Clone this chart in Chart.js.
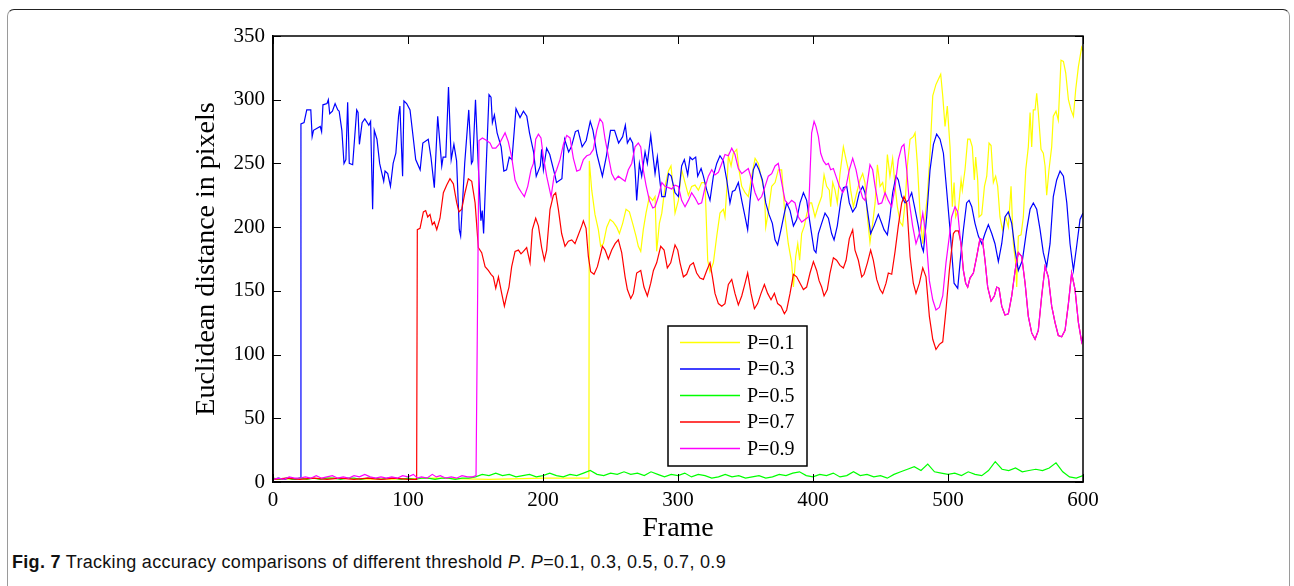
<!DOCTYPE html>
<html>
<head>
<meta charset="utf-8">
<script src="https://cdn.jsdelivr.net/npm/chart.js@4.4.1/dist/chart.umd.min.js"></script>
<style>
  html, body { margin: 0; padding: 0; background: #fff; }
  body { width: 1294px; height: 586px; position: relative; overflow: hidden; }
  #frame {
    position: absolute; left: 7px; top: 9px; width: 1283px; height: 620px;
    border: 1.5px solid #9a9a9a; border-top-color: #222; border-radius: 7px;
    box-sizing: border-box;
  }
  #myChart { position: absolute; left: 0; top: 0; }
  #caption {
    position: absolute; left: 12px; top: 552px;
    font-family: "Liberation Sans", "Noto Sans", sans-serif; font-size: 18px; letter-spacing: 0.3px;
    color: #111; white-space: nowrap;
  }
</style>
</head>
<body>
<div id="frame"></div>
<canvas id="myChart" width="1294" height="545"></canvas>
<div id="caption"><b>Fig. 7</b> Tracking accuracy comparisons of different threshold <i>P</i>. <i>P</i>=0.1, 0.3, 0.5, 0.7, 0.9</div>
<script>
// values (frame number, euclidean distance)
const framesP01 = [0, 40, 80, 120, 160, 200, 234, 234.3, 236.1, 238.5, 241, 242.7, 244.7, 247.2, 249.7, 252.1, 254.6, 256.6, 259, 261.5, 264, 266.4, 268.9, 270.6, 272.4, 274.3, 276.3, 278.8, 281.3, 283, 284.2, 286.2, 288, 290.4, 292.9, 294.8, 296.6, 297.8, 300.3, 302.7, 305.2, 307.7, 310.1, 312.6, 315.1, 317.5, 320, 322, 323.7, 326.2, 328.7, 331.1, 333.6, 334.8, 336.1, 337.3, 339.3, 341, 343.5, 345.2, 347.2, 349.7, 352.1, 354.6, 357.1, 359.5, 362, 364, 365, 366.9, 369.4, 371.9, 374.3, 376.8, 379.3, 381.7, 384.2, 385.5, 387.2, 388.7, 390.1, 391.6, 393.6, 395.3, 397.8, 399, 401.5, 404, 406.4, 408.2, 410.1, 412.1, 413.1, 414.6, 416.3, 418, 420, 422.5, 424.5, 426.2, 427.9, 429.9, 432.4, 434.8, 436.8, 438.5, 440.3, 442.2, 444.2, 446, 447.7, 449.7, 451.6, 453.4, 455.1, 457, 459, 460.8, 462.5, 464.5, 466.4, 468.2, 469.9, 471.9, 474.3, 475.6, 477.3, 479.3, 481.3, 483, 484.7, 486.7, 488.7, 491.1, 492.9, 494.6, 496.1, 497.8, 499.5, 501.5, 503.2, 504.5, 505.7, 507.7, 509.7, 510.6, 512.6, 514.6, 516.3, 518, 519.5, 520.5, 522, 523, 525, 527, 528.7, 530.4, 531.9, 533.6, 535.3, 536.8, 538.5, 540.3, 542.7, 544.7, 546.7, 548.4, 550.1, 550.9, 552.1, 554.1, 555.8, 557.6, 559.5, 560.8, 562, 563.2, 564.5, 565.7, 566.9, 568.9, 570.6, 571.9, 573.1, 574.8, 576.8, 578, 580, 581.7, 583.7, 585.5, 587.2, 589.2, 591.1, 592.9, 594.6, 596.6, 599, 600];
const distP01 = [2, 3, 2, 3, 2, 3, 3, 252, 229, 210, 198, 185, 187, 200, 206, 204, 200, 195, 203, 214, 212, 203, 193, 185, 181, 198, 211, 224, 221, 224, 181, 203, 211, 232, 244, 248, 229, 211, 221, 245, 235, 225, 232, 233, 229, 235, 235, 174, 165, 172, 193, 211, 214, 208, 229, 256, 248, 258, 261, 245, 232, 227, 224, 240, 254, 250, 237, 229, 200, 212, 232, 235, 245, 245, 208, 187, 172, 153, 177, 187, 174, 195, 201, 210, 219, 219, 208, 217, 224, 241, 232, 229, 216, 235, 229, 219, 242, 263, 253, 245, 229, 216, 227, 237, 242, 235, 208, 188, 203, 219, 249, 232, 235, 224, 257, 240, 254, 232, 216, 204, 201, 219, 248, 269, 271, 274, 250, 211, 187, 208, 224, 258, 303, 312, 316, 320, 303, 279, 295, 263, 216, 235, 208, 214, 237, 229, 245, 269, 269, 263, 237, 255, 237, 208, 210, 232, 240, 266, 264, 235, 240, 232, 208, 198, 208, 200, 232, 187, 172, 153, 193, 194, 208, 245, 263, 290, 263, 292, 292, 305, 290, 261, 258, 248, 225, 245, 263, 287, 291, 284, 331, 330, 321, 300, 292, 287, 308, 326, 341, 338];

const framesP03 = [0, 4, 8, 12, 16, 20, 20.7, 23, 25, 28, 29, 30, 35, 36, 37, 40, 41, 42, 44, 46, 48, 49, 51, 52.6, 54, 55.3, 56.5, 59, 62, 63, 64, 66, 68, 71, 72.3, 73.8, 75, 77, 79, 82, 83, 85, 87, 89, 91, 93, 94, 96, 97, 99, 101.5, 104, 105.7, 109, 111, 115, 117, 119.5, 122, 125, 126, 128, 130, 132, 134, 136, 138, 139, 142, 145, 147, 148, 150, 152, 154, 155, 156, 158, 160, 161.5, 162.5, 164, 166, 169, 171, 173, 175, 177, 180, 183, 185.5, 188, 190, 193, 195, 198, 199, 200.3, 202.7, 205, 209, 210, 214, 216, 219, 221, 224, 226, 229, 232, 235, 237, 240, 244, 247, 250, 253, 256, 259, 261, 262.5, 264.5, 266.4, 268.2, 269.4, 271.4, 273.1, 275.6, 277.3, 279.8, 281.8, 283, 284.7, 286.7, 288, 290.4, 293, 295, 297.8, 300.3, 302.7, 304.7, 307.2, 308.9, 310.6, 313.1, 314.6, 317.1, 318.8, 321.3, 323.7, 326.2, 328.7, 331.1, 333.6, 336.1, 338.5, 340.3, 342.2, 344.7, 347.2, 349.7, 351.6, 353.4, 355.8, 357.8, 360, 362.5, 365, 367.4, 369.9, 371.9, 373.8, 376.3, 378.8, 380.5, 383, 385.5, 387.9, 390.4, 392.9, 395.3, 397.8, 400.8, 402.2, 404, 406.4, 408.9, 411.4, 413.8, 415.6, 418, 420.5, 422.5, 425, 426.9, 429.4, 431.9, 434.3, 436.8, 438.5, 441, 442.7, 445.2, 448.4, 450.9, 452.6, 455.1, 457, 459, 461.5, 463.2, 465.7, 468.2, 470.6, 473.1, 475.6, 478, 480.5, 481.8, 484.2, 486.7, 489.2, 491.6, 494.1, 496.6, 499, 501.5, 504.5, 507.2, 508.9, 511.4, 513.8, 515.6, 517.6, 520, 522.5, 525, 527.4, 529.9, 532.4, 534.8, 537.3, 539.8, 542.2, 544.7, 547.2, 549.7, 552.1, 555.1, 558.3, 560.8, 563.2, 565.7, 568.2, 570.6, 573.1, 575.6, 578, 580.5, 583, 585.5, 588, 590.4, 592.9, 595.3, 597.8, 600];
const distP03 = [2, 3, 2, 3, 2, 3, 281, 282, 292, 292, 271, 276, 279, 275, 296, 297, 300, 289, 291, 297, 292, 291, 276, 250, 253, 298, 250, 249, 292, 290, 265, 282, 285, 280, 283, 214, 276, 269, 250, 236, 244, 242, 232, 250, 258, 287, 295, 240, 299, 297, 292, 269, 253, 245, 266, 269, 255, 231, 287, 248, 255, 255, 310, 253, 265, 252, 198, 193, 250, 292, 250, 252, 300, 250, 205, 213, 195, 250, 304, 302, 282, 288, 274, 263, 244, 245, 255, 253, 293, 286, 291, 287, 274, 259, 240, 248, 261, 245, 262, 257, 240, 235, 238, 269, 259, 263, 275, 276, 263, 268, 283, 276, 257, 240, 256, 276, 276, 266, 271, 280, 266, 270, 266, 245, 221, 250, 240, 259, 250, 272, 253, 242, 255, 235, 224, 224, 242, 240, 227, 224, 248, 253, 241, 255, 253, 255, 240, 246, 240, 229, 221, 240, 250, 256, 252, 237, 219, 228, 229, 235, 221, 208, 198, 221, 245, 250, 245, 237, 219, 210, 203, 190, 186, 198, 211, 219, 213, 201, 206, 219, 227, 221, 203, 182, 180, 195, 203, 211, 207, 195, 190, 201, 220, 231, 232, 219, 212, 216, 227, 232, 227, 208, 195, 201, 210, 203, 198, 194, 208, 227, 240, 237, 224, 219, 221, 227, 214, 201, 185, 181, 208, 245, 265, 273, 269, 258, 229, 198, 156, 152, 172, 198, 219, 221, 216, 203, 193, 187, 195, 202, 195, 187, 173, 187, 208, 212, 203, 182, 166, 174, 198, 214, 219, 214, 198, 180, 169, 187, 224, 237, 244, 240, 219, 187, 166, 185, 206, 211];

const framesP05 = [0, 5, 10, 15, 20, 25, 30, 35, 40, 45, 50, 55, 60, 65, 70, 75, 80, 85, 90, 95, 100, 105, 110, 115, 120, 125, 130, 135, 140, 145, 150, 155, 160, 165, 170, 175, 180, 185, 190, 195, 200, 205, 210, 215, 220, 225, 230, 235, 240, 245, 250, 255, 260, 265, 270, 275, 280, 285, 290, 295, 300, 305, 310, 315, 320, 325, 330, 335, 340, 345, 350, 355, 360, 365, 370, 375, 380, 385, 390, 395, 400, 405, 410, 415, 420, 425, 430, 435, 440, 445, 450, 455, 460, 465, 470, 475, 480, 485, 490, 495, 500, 505, 510, 515, 520, 525, 530, 535, 540, 545, 550, 555, 560, 565, 570, 575, 580, 585, 590, 595, 600];
const distP05 = [3, 2, 3, 2, 3, 2, 3, 2, 3, 3, 2, 3, 3, 2, 3, 3, 2, 3, 3, 2, 3, 2, 3, 3, 2, 3, 3, 2, 3, 3, 4, 6, 5, 7, 5, 6, 4, 5, 6, 4, 5, 7, 5, 4, 6, 5, 7, 9, 6, 5, 7, 6, 8, 6, 7, 5, 8, 6, 4, 6, 5, 7, 4, 6, 5, 3, 4, 6, 4, 5, 3, 4, 5, 3, 4, 6, 5, 7, 8, 5, 4, 6, 5, 7, 4, 5, 8, 5, 6, 4, 5, 3, 6, 8, 10, 12, 9, 14, 8, 7, 6, 7, 5, 8, 6, 5, 9, 16, 10, 9, 11, 8, 9, 10, 9, 11, 15, 8, 4, 3, 5];

const framesP07 = [0, 10, 20, 30, 40, 50, 60, 70, 80, 90, 100, 106.4, 106.9, 108.9, 111.4, 113.1, 114.6, 116.3, 118, 119.5, 121.3, 123.7, 126.2, 128.7, 131.1, 133.6, 136.1, 137.8, 139.8, 142.2, 144.7, 147.2, 149.7, 152.1, 154.6, 157.1, 159.5, 161.5, 163.2, 165, 167, 169.4, 171.4, 173.1, 174.8, 176.8, 179.3, 181.8, 183.7, 185.5, 187.9, 190.4, 192.1, 194.6, 196.6, 199, 201, 202.7, 205.2, 207.7, 209.4, 211.4, 213.8, 216.3, 218.8, 221.3, 223.7, 226.2, 228.7, 229.9, 231.9, 233.6, 235.3, 237.8, 240.3, 242.2, 244, 246, 248.4, 250.9, 253.4, 255.8, 258.3, 260.8, 262.5, 265, 266.9, 269.4, 272.4, 274.8, 277.3, 279.8, 281.8, 284.2, 287.2, 289.7, 292.1, 294.6, 297.8, 299.8, 301.5, 304, 306.4, 308.9, 311.4, 313.8, 316.3, 318.8, 321.3, 323.7, 325.5, 327.4, 329.9, 332.4, 334.8, 337.3, 339.8, 342.2, 344.7, 347.2, 349.7, 351.6, 354.1, 356.6, 359, 361.5, 364, 366.4, 368.9, 371.4, 373.8, 376.3, 378.8, 380.5, 383, 385.5, 387.9, 390.4, 392.9, 395.3, 397.8, 400.3, 402.7, 404.5, 406.4, 408.2, 410.6, 412.6, 415.1, 417.5, 420, 422.5, 424.5, 426.9, 429.4, 431.1, 433.6, 436.1, 437.8, 440.3, 442.7, 444.7, 447.2, 449.7, 451.6, 454.1, 455.8, 458.3, 460.8, 463.2, 465.7, 467.4, 469.4, 471.9, 474.3, 476.3, 478.8, 481.3, 483.7, 486.2, 488.7, 491.1, 493.6, 496.1, 498.5, 501, 504, 505.5, 507.7, 509.7, 511.4, 513.1, 514.6, 516.3, 518.8, 521.3, 523.7, 525.5, 527.4, 529.4, 531.9, 534.3, 536.1, 537.8, 539.8, 542.2, 544.7, 547.2, 549.7, 552.1, 554.6, 557.1, 559.5, 562, 564.5, 566.9, 569.4, 571.9, 574.3, 576.8, 579.3, 581.7, 584.2, 586.7, 589.2, 591.6, 594.1, 596.6, 599, 600];
const distP07 = [2, 3, 2, 3, 2, 3, 2, 3, 2, 3, 2, 2, 198, 199, 212, 213, 208, 210, 202, 204, 198, 207, 227, 233, 238, 234, 219, 212, 214, 227, 238, 236, 219, 184, 180, 169, 166, 163, 161, 152, 161, 148, 138, 146, 153, 169, 181, 182, 179, 181, 184, 172, 198, 207, 201, 184, 174, 182, 214, 225, 227, 214, 195, 185, 189, 190, 187, 194, 201, 205, 199, 177, 165, 163, 169, 177, 185, 182, 175, 182, 187, 190, 180, 161, 151, 144, 148, 164, 166, 153, 146, 156, 166, 172, 185, 182, 168, 172, 186, 182, 172, 161, 163, 170, 172, 164, 160, 159, 166, 172, 161, 148, 140, 138, 140, 155, 159, 148, 139, 146, 156, 164, 148, 136, 140, 148, 155, 148, 143, 148, 140, 138, 132, 135, 148, 163, 161, 156, 151, 153, 164, 173, 166, 158, 153, 146, 151, 164, 176, 174, 170, 168, 174, 191, 198, 182, 174, 161, 163, 172, 182, 174, 159, 151, 148, 156, 164, 163, 181, 201, 219, 224, 219, 177, 156, 148, 156, 168, 161, 130, 112, 104, 108, 110, 135, 166, 195, 197, 197, 187, 166, 156, 153, 160, 164, 177, 191, 190, 174, 153, 142, 146, 153, 152, 138, 131, 132, 146, 166, 180, 177, 156, 130, 117, 112, 119, 146, 169, 161, 138, 125, 115, 114, 119, 140, 164, 151, 125, 110, 114];

const framesP09 = [0, 4, 8, 12, 16, 20, 24, 28, 32, 36, 40, 44, 48, 52, 56, 60, 64, 68, 72, 76, 80, 84, 88, 92, 96, 100, 104, 107, 110, 114, 118, 121, 124, 128, 132, 136, 140, 144, 148, 150.4, 152.6, 155.1, 158.3, 160.8, 162.5, 165, 167.4, 169.9, 171.9, 174.3, 176.8, 179.3, 181.8, 184.2, 186.2, 188.7, 191.1, 192.9, 194.6, 196.6, 198.5, 200.3, 202.7, 206, 208.2, 210.1, 212.6, 215.1, 217.6, 220, 222.5, 225, 227.4, 229.9, 232.4, 234.8, 237.3, 239.8, 242.2, 244.2, 246, 248.4, 250.9, 253.4, 255.8, 258.3, 260.8, 263.2, 265.7, 268.2, 270.6, 272.4, 274.3, 276.3, 278.8, 281.3, 283, 285.5, 288, 290.4, 292.9, 295.3, 297.8, 300.3, 302.7, 305.2, 307.7, 310.1, 312.6, 315.1, 317.5, 320, 322.5, 325, 327.4, 329.9, 332.4, 334.8, 337.3, 339.8, 342.2, 344.7, 347.2, 349.7, 352.1, 354.6, 357.1, 359.5, 362, 364.5, 366.9, 369.4, 371.9, 374.3, 376.8, 379.3, 381.7, 384.2, 386.7, 389.2, 391.6, 394.1, 396.6, 397.8, 399, 400.8, 402.2, 404, 405.7, 407.7, 409.7, 411.4, 413.1, 415.1, 417, 419.5, 422, 424.5, 426.9, 429.4, 431.9, 434.3, 436.8, 438.5, 440.3, 442.2, 444.2, 446, 448.4, 450.9, 453.4, 455.8, 458.3, 460.8, 463.2, 465.7, 467.4, 469.4, 471.4, 473.8, 476.3, 478.8, 481.3, 483.7, 486.2, 488.7, 491.1, 493.6, 496.1, 498.5, 501, 502.7, 505.2, 507.2, 508.9, 511.4, 513.1, 514.6, 516.3, 518.8, 521.3, 523.7, 525.5, 527.4, 529.4, 531.9, 534.3, 536.1, 537.8, 539.8, 542.2, 544.7, 547.2, 549.7, 552.1, 554.6, 557.1, 559.5, 562, 564.5, 566.9, 569.4, 571.9, 574.3, 576.8, 579.3, 581.7, 584.2, 586.7, 589.2, 591.6, 594.1, 596.6, 599, 600];
const distP09 = [2, 3, 2, 4, 3, 3, 4, 3, 5, 3, 4, 5, 3, 4, 3, 5, 4, 6, 4, 3, 4, 3, 4, 3, 5, 4, 6, 3, 4, 3, 6, 4, 5, 3, 4, 3, 5, 4, 4, 5, 268, 270, 268, 266, 262, 262, 265, 270, 274, 267, 255, 237, 231, 227, 224, 232, 245, 250, 269, 273, 270, 255, 240, 224, 240, 245, 253, 265, 272, 270, 254, 244, 245, 253, 256, 257, 261, 276, 285, 282, 269, 256, 242, 237, 240, 238, 236, 245, 250, 263, 266, 263, 245, 233, 221, 215, 216, 224, 235, 232, 231, 230, 233, 232, 221, 216, 221, 227, 223, 218, 219, 231, 240, 245, 241, 243, 250, 257, 256, 262, 257, 246, 242, 244, 246, 237, 227, 221, 224, 232, 240, 242, 248, 250, 235, 221, 218, 221, 219, 208, 204, 206, 208, 242, 274, 283, 279, 271, 258, 252, 249, 250, 245, 246, 240, 232, 227, 232, 245, 254, 245, 232, 223, 221, 235, 249, 245, 232, 218, 219, 227, 221, 216, 232, 253, 263, 265, 245, 219, 201, 187, 195, 211, 193, 158, 143, 135, 137, 146, 172, 193, 208, 216, 212, 193, 166, 156, 153, 160, 164, 177, 191, 190, 174, 153, 142, 146, 153, 152, 138, 131, 132, 146, 166, 180, 177, 156, 130, 117, 112, 119, 146, 169, 161, 138, 125, 115, 114, 119, 140, 164, 151, 125, 110, 114];

const seriesNames = ['P=0.1', 'P=0.3', 'P=0.5', 'P=0.7', 'P=0.9'];
const seriesColors = ['#ffff00', '#0000ff', '#00ff00', '#ff0000', '#ff00ff'];
const xTicks = [0, 100, 200, 300, 400, 500, 600];
const yTicks = [0, 50, 100, 150, 200, 250, 300, 350];

const allFrames = [framesP01, framesP03, framesP05, framesP07, framesP09];
const allDist = [distP01, distP03, distP05, distP07, distP09];

const serif = '"Liberation Serif", "Times New Roman", serif';

// matlab style box: closed frame, ticks pointing inwards, legend box inside
const matlabBox = {
    id: 'matlabBox',
    afterDatasetsDraw(chart) {
        const { ctx, chartArea: a, scales } = chart;
        ctx.save();
        ctx.strokeStyle = '#000';
        ctx.lineWidth = 1.5;
        ctx.strokeRect(a.left, a.top, a.right - a.left, a.bottom - a.top);
        ctx.beginPath();
        xTicks.forEach(v => {
            const px = Math.round(scales.x.getPixelForValue(v)) + 0.5;
            ctx.moveTo(px, a.bottom); ctx.lineTo(px, a.bottom - 8);
            ctx.moveTo(px, a.top); ctx.lineTo(px, a.top + 8);
        });
        yTicks.forEach(v => {
            const py = Math.round(scales.y.getPixelForValue(v)) + 0.5;
            ctx.moveTo(a.left, py); ctx.lineTo(a.left + 8, py);
            ctx.moveTo(a.right, py); ctx.lineTo(a.right - 8, py);
        });
        ctx.lineWidth = 1;
        ctx.stroke();

        // legend
        const bx = 668, by = 326, bw = 139, bh = 140;
        ctx.fillStyle = '#fff';
        ctx.fillRect(bx, by, bw, bh);
        ctx.lineWidth = 1.5;
        ctx.strokeRect(bx, by, bw, bh);
        ctx.font = '20px ' + serif;
        ctx.textBaseline = 'middle';
        chart.data.datasets.forEach((ds, i) => {
            const y = by + 16.5 + i * 26.5;
            ctx.strokeStyle = ds.borderColor;
            ctx.lineWidth = 1.3;
            ctx.beginPath();
            ctx.moveTo(bx + 12, y); ctx.lineTo(bx + 72, y);
            ctx.stroke();
            ctx.fillStyle = '#000';
            ctx.fillText(ds.label, bx + 79, y + 1);
        });
        ctx.restore();
    }
};

document.addEventListener('DOMContentLoaded', function () {
    const ctx = document.getElementById('myChart');

    const datasets = seriesNames.map((name, i) => ({
        label: name,
        data: allFrames[i].map((f, j) => ({ x: f, y: allDist[i][j] })),
        borderColor: seriesColors[i],
        backgroundColor: seriesColors[i],
        borderWidth: 1.2,
        pointRadius: 0,
        tension: 0,
        order: 5 - i // later series on top, like the original plot
    }));

    new Chart(ctx, {
        type: 'line',
        data: { datasets: datasets },
        options: {
            responsive: false,
            animation: false,
            devicePixelRatio: 1,
            layout: { padding: { left: 190, right: 211, top: 36, bottom: 0 } },
            scales: {
                x: {
                    type: 'linear',
                    min: 0, max: 600,
                    afterBuildTicks: s => { s.ticks = xTicks.map(v => ({ value: v })); },
                    afterFit: s => { s.height = 63; },
                    ticks: { color: '#000', padding: 6, maxRotation: 0, font: { family: serif, size: 21 } },
                    grid: { drawOnChartArea: false, drawTicks: false },
                    border: { color: '#000', width: 1.5 },
                    title: { display: true, text: 'Frame', color: '#000', padding: 0, font: { family: serif, size: 28 } }
                },
                y: {
                    min: 0, max: 350,
                    afterBuildTicks: s => { s.ticks = yTicks.map(v => ({ value: v })); },
                    afterFit: s => { s.width = 83; },
                    ticks: { color: '#000', padding: 8, font: { family: serif, size: 21 } },
                    grid: { drawOnChartArea: false, drawTicks: false },
                    border: { color: '#000', width: 1.5 },
                    title: { display: true, text: 'Euclidean distance in pixels', color: '#000', padding: 0, font: { family: serif, size: 28 } }
                }
            },
            plugins: {
                legend: { display: false },
                tooltip: { enabled: false }
            }
        },
        plugins: [matlabBox]
    });
});
</script>
</body>
</html>
